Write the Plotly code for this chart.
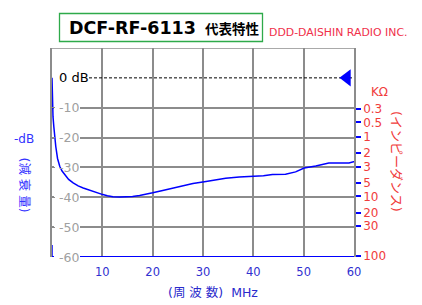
import plotly.graph_objects as go

# ---- data ----
freq_mhz = [0, 0.05, 0.1, 0.2, 0.36, 0.55, 0.75, 1.1, 1.55, 2.0, 2.5, 3.3, 4.2, 5.2, 6.2, 7.2,
            8.1, 9.0, 10.1, 11.0, 12.1, 13.5, 14.8, 16.0, 17.4, 18.7, 20.0, 22.0, 24.0, 26.0,
            28.0, 30.6, 32.5, 34.5, 37.2, 39.8, 42.0, 43.8, 46.4, 48.4, 50.1, 52.4, 55.0,
            57.0, 59.0, 59.9, 60.0]
atten_db = [0, -5, -9.7, -13, -16.3, -20, -23, -27, -29.7, -31.2, -32.4, -34, -35.2, -36.2,
            -36.9, -37.5, -38, -38.6, -39.1, -39.5, -39.8, -39.9, -39.9, -39.7, -39.4, -39,
            -38.5, -37.7, -36.9, -36.2, -35.4, -34.7, -34.1, -33.6, -33.2, -33.1, -32.8,
            -32.4, -32.3, -31.5, -30.2, -29.5, -28.5, -28.5, -28.5, -28.1, -28.1]

x_ticks = [10, 20, 30, 40, 50, 60]
y_ticks = [-10, -20, -30, -40, -50, -60]
y_tick_text = ["-10", "-20", "-30", "-40", "-50", "-60"]
ref_level_db = [0]
ref_marker_mhz = [58.6]

imp_labels = ["0.3", "0.5", "1", "2", "3", "5", "10", "20", "30", "100"]
imp_pos_db = [-10.5, -14.9, -19.7, -25.2, -29.7, -35.2, -39.7, -45.2, -49.7, -59.7]

# ---- layout geometry (pixels) ----
W, H = 422, 305
L, R, T, B = 52, 68, 48, 48
PW, PH = W - L - R, H - T - B
X0, X1, Y0, Y1 = 0, 60, -60, 10


def px(x):
    return (x - L) / PW


def py(y):
    return (H - B - y) / PH


def xd(p):  # pixel -> x data
    return X0 + (p - L) / PW * (X1 - X0)


def dy(p):  # pixel span -> y data span
    return p / PH * (Y1 - Y0)


GRID = "#8c8c8c"
BLUE = "#0000ff"
RED = "#f03c3c"
FONT = "DejaVu Sans"
CJK = "DejaVu Sans, Noto Sans CJK JP"

fig = go.Figure()

fig.add_trace(go.Scatter(x=freq_mhz, y=atten_db, mode="lines",
                         line=dict(color=BLUE, width=1.5), showlegend=False,
                         hoverinfo="skip", cliponaxis=False))
fig.add_trace(go.Scatter(x=ref_marker_mhz, y=ref_level_db, mode="markers",
                         marker=dict(symbol="triangle-left", size=15, color=BLUE),
                         showlegend=False, hoverinfo="skip", cliponaxis=False))
# invisible trace for right axis
fig.add_trace(go.Scatter(x=[None], y=[None], yaxis="y2", showlegend=False))

shapes = [
    # top border
    dict(type="line", xref="x", yref="y", x0=X0, x1=X1, y0=Y1, y1=Y1,
         line=dict(color=GRID, width=1.5), layer="between"),
    # bottom blue line
    dict(type="line", xref="x", yref="y", x0=X0, x1=X1, y0=Y0, y1=Y0,
         line=dict(color=BLUE, width=2), layer="between"),
]
# white label boxes over gridlines (below the curve)
for v in y_ticks + ref_level_db:
    right = 89 if v == 0 else 80
    shapes.append(dict(type="rect", xref="x", yref="y", x0=xd(54), x1=xd(right),
                       y0=v - dy(8), y1=v + dy(8), line=dict(width=0),
                       fillcolor="white", layer="between"))
shapes += [
    # 0 dB dashed reference
    dict(type="line", xref="x", yref="y", x0=xd(89), x1=X1, y0=ref_level_db[0],
         y1=ref_level_db[0], line=dict(color="black", width=1, dash="3px,2px"),
         layer="between"),
    # blue segment at lower-left
    dict(type="line", xref="x", yref="y", x0=X0, x1=X0, y0=Y0 + dy(12), y1=Y0,
         line=dict(color=BLUE, width=1.5), layer="above"),
    # title box
    dict(type="rect", xref="paper", yref="paper", x0=px(59.5), x1=px(262.5),
         y0=py(41.5), y1=py(13.5), line=dict(color="#2eaa4a", width=1.3),
         fillcolor="white", layer="above"),
]

annotations = []
for v, t in zip(y_ticks, y_tick_text):
    annotations.append(dict(x=0, y=v, xref="x", yref="y", text=t, showarrow=False,
                            xanchor="left", yanchor="middle", xshift=5,
                            font=dict(family=FONT, size=12.5, color="#a0a0a0")))
annotations.append(dict(x=0, y=0, xref="x", yref="y", text="0 dB", showarrow=False,
                        xanchor="left", yanchor="middle", xshift=5,
                        font=dict(family=FONT, size=13, color="black")))


def lab(x, y, text, size, color, family=FONT, xanchor="center", angle=0):
    annotations.append(dict(x=px(x), y=py(y), xref="paper", yref="paper", text=text,
                            showarrow=False, xanchor=xanchor, yanchor="middle",
                            textangle=angle, font=dict(family=family, size=size, color=color)))


# title
lab(67, 27.5, "<b>DCF-RF-6113</b>", 17.5, "black", xanchor="left")
lab(203, 27.5, "<b>代表特性</b>", 13.5, "black", family="Noto Sans CJK JP", xanchor="left")
lab(267, 32, "DDD-DAISHIN RADIO INC.", 10.9, "#f0304a", xanchor="left")
# left labels
lab(23.5, 139, "-dB", 12, "#3333ff")
lab(24.5, 185, "(減\u00a0衰\u00a0量)", 12.5, "#3333ff", family=CJK, angle=90)
# right labels
lab(379.5, 92, "KΩ", 12, RED)
lab(397, 161, "(インピーダンス)", 13, RED, family=CJK, angle=90)
# x axis title
lab(213, 292, "(周\u00a0波\u00a0数)\u00a0\u00a0MHz", 12.5, "#2a2acc", family=CJK)

fig.update_layout(
    width=W, height=H, margin=dict(l=L, r=R, t=T, b=B),
    paper_bgcolor="white", plot_bgcolor="white",
    shapes=shapes, annotations=annotations, showlegend=False,
    xaxis=dict(range=[X0, X1], tickvals=x_ticks, showgrid=True, gridcolor=GRID,
               gridwidth=1.5, zeroline=False, showline=False,
               ticks="outside", ticklen=4, tickcolor="rgba(0,0,0,0)",
               tickfont=dict(family=FONT, size=11.5, color="#3030d0")),
    yaxis=dict(range=[Y0, Y1], tickvals=[-50, -40, -30, -20, -10],
               showticklabels=False, showgrid=True, gridcolor=GRID, gridwidth=1.5,
               zeroline=False, showline=True, linecolor=GRID, linewidth=1.5,
               ticks="inside", ticklen=3, tickcolor=GRID),
    yaxis2=dict(range=[Y0, Y1], overlaying="y", side="right", tickvals=imp_pos_db,
                ticktext=imp_labels, showgrid=False, zeroline=False, showline=True,
                linecolor=GRID, linewidth=1.5, ticks="outside", ticklen=5, tickwidth=2,
                tickcolor=BLUE, tickfont=dict(family=FONT, size=12, color=RED)),
)

fig.write_html("out.html")
